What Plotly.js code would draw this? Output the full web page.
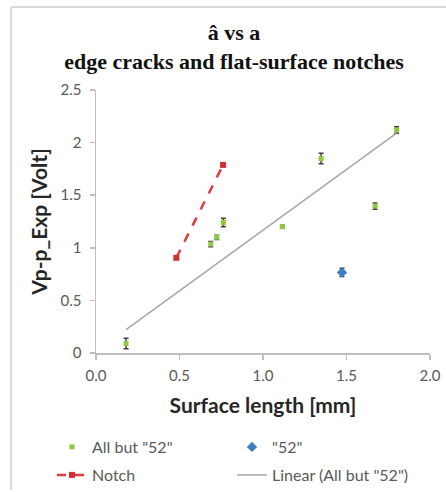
<!DOCTYPE html>
<html>
<head>
<meta charset="utf-8">
<script src="https://cdn.plot.ly/plotly-3.0.1.min.js"></script>
<style>html,body{margin:0;padding:0;background:#fff}#chart{width:446px;height:492px}</style>
</head>
<body>
<div id="chart"></div>
<script>
// Data
var allButX = [0.18, 0.687, 0.723, 0.763, 1.116, 1.348, 1.671, 1.80];
var allButY = [0.09, 1.035, 1.10, 1.24, 1.20, 1.848, 1.397, 2.12];
var allButErr = [0.05, 0.025, 0.02, 0.04, 0.015, 0.05, 0.03, 0.03];

var p52X = [1.473];
var p52Y = [0.766];
var p52Err = [0.04];

var notchX = [0.481, 0.761];
var notchY = [0.905, 1.788];

var linearX = [0.18, 1.80];
var linearY = [0.223, 2.09];

var xTicks = [0, 0.5, 1.0, 1.5, 2.0];
var yTicks = [0, 0.5, 1, 1.5, 2, 2.5];

var sans = 'Lato, "Open Sans", sans-serif';
var tickFont = {family: sans, size: 15, color: '#595959'};

var traces = [
  {
    x: allButX, y: allButY, type: 'scatter', mode: 'markers', name: 'All but "52"', legend: 'legend',
    marker: {symbol: 'square', size: 5, color: '#92C83E', line: {width: 0}},
    error_y: {type: 'data', array: allButErr, visible: true, color: '#404040', thickness: 1.5, width: 2.5}
  },
  {
    x: p52X, y: p52Y, type: 'scatter', mode: 'markers', name: '"52"', legend: 'legend',
    marker: {symbol: 'diamond', size: 8, color: '#3C7DC4'},
    error_y: {type: 'data', array: p52Err, visible: true, color: '#404040', thickness: 1.5, width: 2.5}
  },
  {
    x: notchX, y: notchY, type: 'scatter', mode: 'lines+markers', name: 'Notch', legend: 'legend2',
    line: {color: '#E03A3A', width: 2.5, dash: 'dash'},
    marker: {symbol: 'square', size: 6, color: '#D62F2F'}
  },
  {
    x: linearX, y: linearY, type: 'scatter', mode: 'lines', name: 'Linear (All but "52")', legend: 'legend2',
    line: {color: '#A6A6A6', width: 1.5}
  }
];

var L = 96, R = 16, T = 90, B = 139;
var pw = 446 - L - R, ph = 492 - T - B;
function px2x(p){ return (p - L) / pw; }
function py2y(p){ return (492 - B - p) / ph; }

var legendBase = {
  orientation: 'h',
  x: px2x(52), xanchor: 'left',
  yanchor: 'middle',
  entrywidth: 135, entrywidthmode: 'pixels',
  font: {family: sans, size: 16, color: '#595959'},
  itemwidth: 30,
  bgcolor: 'rgba(0,0,0,0)'
};

var layout = {
  width: 446, height: 492,
  margin: {l: L, r: R, t: T, b: B, autoexpand: false},
  paper_bgcolor: '#ffffff', plot_bgcolor: '#ffffff',
  showlegend: true,
  title: {
    text: '<b>â vs a<br>edge cracks and flat-surface notches</b>',
    font: {family: '"Liberation Serif", "DejaVu Serif", serif', size: 22, color: '#111111'},
    xref: 'container', x: 234/446, xanchor: 'center',
    yref: 'container', y: 1 - 40/492, yanchor: 'top'
  },
  xaxis: {
    range: [0, 2], tickvals: xTicks, tickformat: '.1f',
    showgrid: false, zeroline: false,
    showline: true, linecolor: '#BFBFBF', linewidth: 1.5,
    ticks: 'outside', ticklen: 5, tickcolor: '#BFBFBF', tickwidth: 1.5,
    ticklabelstandoff: 3,
    tickfont: tickFont,
    title: {text: '<b>Surface length [mm]</b>', font: {family: sans, size: 21, color: '#262626'}, standoff: 16}
  },
  yaxis: {
    range: [0, 2.5], tickvals: yTicks,
    showgrid: false, zeroline: false,
    showline: true, linecolor: '#BFBFBF', linewidth: 1.5,
    ticks: 'outside', ticklen: 5, tickcolor: '#BFBFBF', tickwidth: 1.5,
    ticklabelstandoff: 5,
    tickfont: tickFont,
    title: {text: '<b>Vp-p_Exp [Volt]</b>', font: {family: sans, size: 21, color: '#262626'}, standoff: 7}
  },
  legend: Object.assign({}, legendBase, {y: py2y(447)}),
  legend2: Object.assign({}, legendBase, {y: py2y(475)}),
  shapes: [
    {type: 'line', xref: 'paper', yref: 'paper', x0: px2x(11), x1: px2x(446), y0: py2y(7), y1: py2y(7), line: {color: '#D9D9D9', width: 2}},
    {type: 'line', xref: 'paper', yref: 'paper', x0: px2x(11), x1: px2x(11), y0: py2y(7), y1: py2y(490), line: {color: '#D9D9D9', width: 2}}
  ]
};

Plotly.newPlot('chart', traces, layout, {displayModeBar: false, staticPlot: true});
</script>
</body>
</html>
